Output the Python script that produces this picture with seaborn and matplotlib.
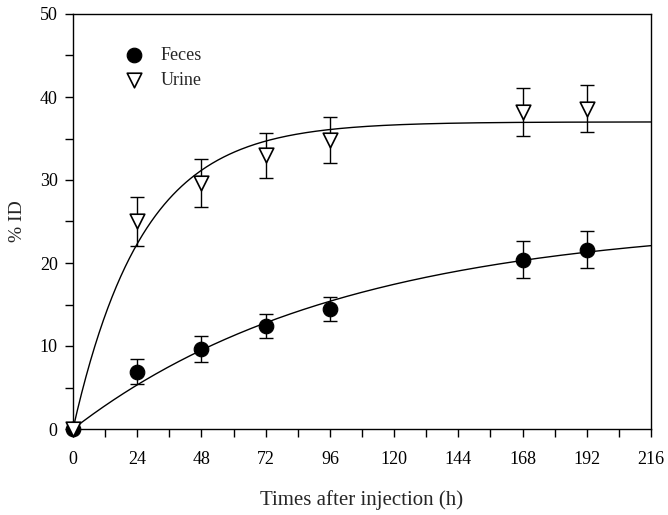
import numpy as np
import pandas as pd
import matplotlib
matplotlib.use("Agg")
import matplotlib.pyplot as plt
import seaborn as sns
from matplotlib.ticker import MultipleLocator

# ---- data ----
times = [0, 24, 48, 72, 96, 168, 192]
feces = [0.0, 6.9, 9.6, 12.45, 14.5, 20.4, 21.6]
feces_err = [0.0, 1.5, 1.55, 1.45, 1.45, 2.25, 2.25]
urine = [0.0, 25.0, 29.6, 33.0, 34.8, 38.2, 38.6]
urine_err = [0.0, 2.95, 2.9, 2.7, 2.75, 2.9, 2.85]
# one-phase association fit parameters (plateau, rate k)
feces_fit = (25.0, 0.00996)
urine_fit = (37.0, 0.0385)
x_ticks = [0, 24, 48, 72, 96, 120, 144, 168, 192, 216]
y_ticks = [0, 10, 20, 30, 40, 50]

sns.set_style("ticks")
plt.rcParams['font.family'] = ['Liberation Serif', 'DejaVu Serif']

fig = plt.figure(figsize=(6.68, 5.15), dpi=100)
ax = fig.add_axes([73/668, 1-429/515, (651-73)/668, (429-14)/515])

# fitted curves
tt = np.linspace(0, 216, 400)
fit_df = pd.DataFrame({
    "t": np.concatenate([tt, tt]),
    "y": np.concatenate([feces_fit[0]*(1-np.exp(-feces_fit[1]*tt)),
                         urine_fit[0]*(1-np.exp(-urine_fit[1]*tt))]),
    "s": ["Feces"]*len(tt) + ["Urine"]*len(tt),
})
sns.lineplot(data=fit_df, x="t", y="y", units="s", estimator=None,
             color="black", lw=1.0, ax=ax, legend=False, zorder=2)

# error bars (skip zero-width ones)
def eb(t, y, e):
    t, y, e = np.array(t), np.array(y), np.array(e)
    m = e > 0
    ax.errorbar(t[m], y[m], yerr=e[m], fmt="none", ecolor="black",
                elinewidth=1.0, capsize=5, capthick=1.0, zorder=3)
eb(times, feces, feces_err)
eb(times, urine, urine_err)

pts = pd.DataFrame({"t": times + times, "y": feces + urine,
                    "s": ["Feces"]*len(times) + ["Urine"]*len(times)})
sns.scatterplot(data=pts[pts.s == "Feces"], x="t", y="y", marker="o", s=110,
                color="black", edgecolor="black", ax=ax, zorder=4,
                label="Feces")
sns.scatterplot(data=pts[pts.s == "Urine"], x="t", y="y", marker="v", s=110,
                facecolor="white", edgecolor="black", linewidth=1.2, ax=ax,
                zorder=5, label="Urine")
for coll in ax.collections:
    coll.set_clip_on(False)

ax.set_xlim(0, 216)
ax.set_ylim(0, 50)
ax.set_xticks(x_ticks)
ax.set_yticks(y_ticks)
ax.xaxis.set_minor_locator(MultipleLocator(12))
ax.yaxis.set_minor_locator(MultipleLocator(5))
ax.tick_params(which="both", direction="out", length=6, width=1,
               labelsize=13, colors="black", top=False, right=False)
ax.tick_params(axis="x", which="major", pad=10)
ax.tick_params(axis="y", which="major", pad=5)
for sp in ax.spines.values():
    sp.set_visible(True)
    sp.set_linewidth(1.0)
    sp.set_color("black")

ax.set_xlabel("Times after injection (h)", fontsize=15, labelpad=16)
ax.set_ylabel("% ID", fontsize=14, labelpad=10)

leg = ax.legend(loc="upper left", bbox_to_anchor=(0.046, 0.96), frameon=False,
                fontsize=13, handletextpad=0.5, labelspacing=0.45,
                markerscale=1.0)

fig.savefig("out.png", dpi=100)
